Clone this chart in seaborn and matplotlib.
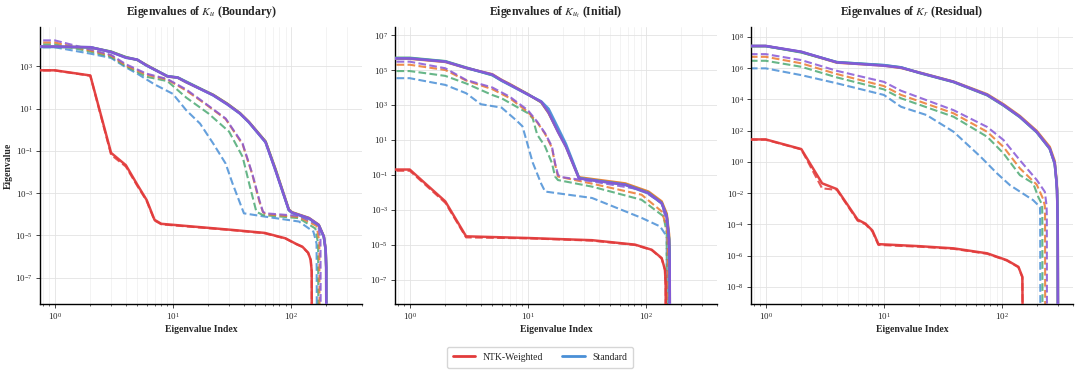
import numpy as np
import pandas as pd
import matplotlib
matplotlib.use("Agg")
import matplotlib.pyplot as plt
import seaborn as sns
from matplotlib.lines import Line2D
from matplotlib.ticker import NullLocator, FixedLocator

# ---------------- data (eigenvalue index -> eigenvalue) ----------------
# Panel 1: K_u (Boundary)
B_RED_X = [0, 1, 2, 3, 4, 5, 6, 7, 8, 32, 60, 90, 110, 125, 140, 147, 150, 151]
B_RED_SOLID = [700, 650, 370, 0.08, 0.021, 2.5e-3, 4.7e-4, 5.4e-5, 3.5e-5, 1.8e-5, 1.3e-5, 7.2e-6, 4e-6, 2.9e-6, 1.5e-6, 7e-7, 2e-7, 1e-14]
B_RED_DASH = [690, 640, 360, 0.065, 0.018, 2.2e-3, 4.3e-4, 5.0e-5, 3.3e-5, 1.75e-5, 1.25e-5, 7.0e-6, 3.9e-6, 2.8e-6, 1.45e-6, 6.8e-7, 1.9e-7, 1e-14]

B_SOLID_X = [0, 1, 2, 3, 4, 5, 6, 9, 11, 13, 22, 29, 37, 44, 61, 74, 96, 102, 142, 172, 190, 197, 199, 200]
B_PURPLE_SOLID = [9000, 8700, 8100, 4800, 2600, 2100, 1100, 340, 295, 180, 43, 16, 5.9, 2.3, 0.26, 0.012, 1.6e-4, 1.2e-4, 6.5e-5, 3.1e-5, 8.7e-6, 2e-6, 3e-7, 1e-14]
B_ORANGE_SOLID = [8800, 8500, 7900, 4900, 2700, 2000, 1150, 330, 290, 175, 45, 17, 6.2, 2.4, 0.28, 0.014, 1.7e-4, 1.25e-4, 6.7e-5, 3.2e-5, 9e-6, 2.1e-6, 3e-7, 1e-14]
B_GREEN_SOLID = [8600, 8400, 8000, 5000, 2750, 2050, 1120, 345, 300, 190, 44, 16.5, 6.0, 2.3, 0.27, 0.013, 1.6e-4, 1.2e-4, 6.4e-5, 3.0e-5, 8.5e-6, 2e-6, 3e-7, 1e-14]
B_BLUE_SOLID = [8500, 8300, 8050, 4700, 2550, 2050, 1080, 335, 290, 178, 42, 15.5, 5.8, 2.25, 0.25, 0.012, 1.55e-4, 1.15e-4, 6.3e-5, 3.0e-5, 8.4e-6, 1.9e-6, 3e-7, 1e-14]

B_PURPLE_DASH_X = [0, 1, 2, 3, 4, 6, 9, 13, 19, 28, 39, 47, 54, 58, 61, 117, 170, 178, 180]
B_PURPLE_DASH = [1.8e4, 1.7e4, 6300, 3500, 1260, 450, 250, 80, 17, 3.4, 0.22, 8.5e-3, 4.7e-4, 1.3e-4, 1.1e-4, 8.3e-5, 3.2e-5, 6.3e-6, 1e-14]
B_ORANGE_DASH_X = [0, 1, 2, 3, 4, 6, 9, 13, 19, 28, 39, 47, 54, 58, 61, 117, 165, 174, 176]
B_ORANGE_DASH = [1.4e4, 1.35e4, 5600, 3200, 1100, 400, 235, 71, 16, 3.2, 0.2, 7.9e-3, 4e-4, 1.26e-4, 1e-4, 7.4e-5, 2.8e-5, 5e-6, 1e-14]
B_GREEN_DASH_X = [0, 1, 2, 3, 4, 6, 9, 13, 20, 30, 39, 45, 51, 58, 117, 161, 170, 172]
B_GREEN_DASH = [1.15e4, 1.1e4, 5000, 2800, 1000, 320, 200, 33, 5.9, 0.8, 0.052, 2e-3, 1.3e-4, 9.1e-5, 6.5e-5, 2.1e-5, 4e-6, 1e-14]
B_BLUE_DASH_X = [0, 1, 2, 3, 4, 5, 7, 10, 13, 17, 22, 28, 32, 40, 61, 117, 155, 165, 167]
B_BLUE_DASH = [8300, 8000, 4000, 2500, 900, 450, 140, 50, 8.3, 1.95, 0.22, 0.025, 2.9e-3, 1.1e-4, 7.6e-5, 4.5e-5, 1.5e-5, 4e-6, 1e-14]

# Panel 2: K_{u_t} (Initial)
I_RED_X = [0, 1, 2, 3, 10, 35, 81, 112, 136, 145, 147, 148]
I_RED_SOLID = [0.22, 0.2, 3e-3, 3e-5, 2.4e-5, 1.8e-5, 1e-5, 5.1e-6, 1.7e-6, 3.7e-7, 5e-8, 1e-14]
I_RED_DASH = [0.2, 0.17, 2.5e-3, 2.6e-5, 2.3e-5, 1.7e-5, 9.6e-6, 4.9e-6, 1.6e-6, 3.5e-7, 5e-8, 1e-14]

I_SOLID_X = [0, 1, 2, 3, 5, 6, 7, 10, 13, 15, 18, 21, 24, 27, 28, 67, 105, 136, 150, 157, 159, 160]
I_PURPLE_SOLID = [4.8e5, 4.6e5, 3e5, 1.35e5, 5.5e4, 2.6e4, 1.5e4, 4e3, 1.5e3, 360, 28, 4, 0.45, 0.065, 0.06, 0.027, 9e-3, 2.4e-3, 4.2e-4, 2e-5, 1e-6, 1e-14]
I_ORANGE_SOLID = [4.6e5, 4.4e5, 2.9e5, 1.3e5, 5.7e4, 2.7e4, 1.6e4, 4.2e3, 1.4e3, 340, 30, 4.3, 0.5, 0.075, 0.07, 0.032, 0.011, 3e-3, 6e-4, 4e-5, 5e-6, 1e-14]
I_GREEN_SOLID = [5.2e5, 5e5, 3.2e5, 1.4e5, 5e4, 2.5e4, 1.45e4, 4.1e3, 1.45e3, 380, 32, 4.5, 0.48, 0.07, 0.063, 0.028, 9.5e-3, 2.5e-3, 4.5e-4, 2.5e-5, 1.5e-6, 1e-14]
I_BLUE_SOLID = [4.9e5, 4.7e5, 3.1e5, 1.3e5, 5.2e4, 2.4e4, 1.4e4, 3.9e3, 1.6e3, 600, 50, 6, 0.6, 0.07, 0.062, 0.026, 8.5e-3, 2.3e-3, 4e-4, 2e-5, 1e-6, 1e-14]

I_PURPLE_DASH_X = [0, 1, 2, 3, 5, 7, 10, 12, 14, 16, 17, 18, 19, 35, 92, 136, 153, 156, 157]
I_PURPLE_DASH = [3.3e5, 3e5, 1.26e5, 2.7e4, 1e4, 3e3, 500, 110, 24, 4.2, 0.47, 0.1, 0.075, 0.042, 0.014, 2.4e-3, 1.1e-4, 1e-5, 1e-14]
I_ORANGE_DASH_X = [0, 1, 2, 3, 5, 7, 10, 12, 14, 16, 17, 18, 35, 92, 136, 150, 153, 154]
I_ORANGE_DASH = [2.2e5, 2e5, 1e5, 2.5e4, 8e3, 2.5e3, 400, 100, 22, 3.5, 0.4, 0.08, 0.031, 7.2e-3, 8e-4, 1e-4, 1e-5, 1e-14]
I_GREEN_DASH_X = [0, 1, 2, 3, 5, 6, 10, 11, 12, 14, 16, 17, 18, 35, 92, 141, 150, 151]
I_GREEN_DASH = [9e4, 8.7e4, 4.6e4, 1.7e4, 3.7e3, 2.4e3, 340, 170, 20, 4.2, 0.47, 0.08, 0.05, 0.021, 3.7e-3, 4.2e-4, 4.7e-5, 1e-14]
I_BLUE_DASH_X = [0, 1, 2, 3, 4, 6, 8, 9, 11, 13, 14, 35, 92, 132, 150, 151]
I_BLUE_DASH = [3.5e4, 3.4e4, 1.4e4, 4.7e3, 1.1e3, 700, 130, 60, 0.5, 0.03, 0.011, 4.7e-3, 3.4e-4, 1.1e-4, 3e-5, 1e-14]

# Panel 3: K_r (Residual)
R_RED_X = [0, 1, 2, 3, 4, 6, 7, 8, 9, 20, 39, 75, 110, 138, 149, 151]
R_RED_SOLID = [28, 27, 6.5, 0.042, 0.018, 2e-4, 1.1e-4, 4e-5, 5.4e-6, 4e-6, 2.9e-6, 1.4e-6, 5.1e-7, 1.9e-7, 4.4e-8, 1e-14]
R_RED_DASH = [27, 26, 6.2, 0.02, 0.016, 1.7e-4, 1e-4, 3.5e-5, 4.8e-6, 3.7e-6, 2.7e-6, 1.3e-6, 4.8e-7, 1.8e-7, 4e-8, 1e-14]

R_SOLID_X = [0, 1, 2, 4, 10, 14, 20, 39, 75, 103, 142, 197, 254, 280, 289, 293, 297, 299]
R_PURPLE_SOLID = [2.7e7, 2.6e7, 1.1e7, 2.3e6, 1.4e6, 1.05e6, 5e5, 1.3e5, 1.9e4, 4.3e3, 760, 83, 7.2, 0.8, 0.068, 0.015, 1e-4, 1e-14]
R_ORANGE_SOLID = [2.6e7, 2.5e7, 1.05e7, 2.2e6, 1.45e6, 1.0e6, 5.2e5, 1.35e5, 2.1e4, 4.8e3, 850, 95, 9, 1.1, 0.09, 0.02, 1.5e-4, 1e-14]
R_GREEN_SOLID = [2.65e7, 2.55e7, 1.0e7, 2.4e6, 1.5e6, 1.1e6, 4.8e5, 1.25e5, 1.8e4, 4.0e3, 720, 78, 6.8, 0.75, 0.065, 0.014, 1e-4, 1e-14]
R_BLUE_SOLID = [2.6e7, 2.5e7, 1.08e7, 2.35e6, 1.55e6, 1.1e6, 5e5, 1.3e5, 1.9e4, 4.2e3, 740, 80, 7, 0.78, 0.066, 0.015, 1e-4, 1e-14]

R_PURPLE_DASH_X = [0, 1, 2, 4, 10, 14, 39, 75, 103, 142, 197, 231, 239, 240, 241]
R_PURPLE_DASH = [8e6, 7.7e6, 3.2e6, 6.6e5, 1.3e5, 3.5e4, 2e3, 170, 25, 1.26, 0.07, 0.012, 1.5e-3, 3e-4, 1e-14]
R_ORANGE_DASH_X = [0, 1, 2, 4, 10, 14, 39, 75, 103, 142, 197, 224, 231, 232, 233]
R_ORANGE_DASH = [5.5e6, 5.2e6, 2e6, 4.1e5, 7e4, 1.9e4, 1.26e3, 83, 9, 0.38, 0.035, 4e-3, 1.5e-3, 3e-4, 1e-14]
R_GREEN_DASH_X = [0, 1, 2, 4, 10, 14, 39, 75, 103, 142, 184, 203, 219, 220, 221]
R_GREEN_DASH = [3e6, 2.9e6, 1.2e6, 2.5e5, 4.3e4, 1.15e4, 760, 40, 3.5, 0.14, 0.042, 5.7e-3, 1.8e-3, 3e-4, 1e-14]
R_BLUE_DASH_X = [0, 1, 2, 4, 10, 14, 23, 39, 66, 91, 117, 184, 210, 211, 212]
R_BLUE_DASH = [1.07e6, 9.5e5, 3.5e5, 1.05e5, 1.9e4, 3.3e3, 980, 83, 2.1, 0.18, 0.032, 3.5e-3, 1.3e-3, 3e-4, 1e-14]

TITLES = ["Eigenvalues of $K_u$ (Boundary)",
          "Eigenvalues of $K_{u_t}$ (Initial)",
          "Eigenvalues of $K_r$ (Residual)"]
LEGEND_LABELS = ["NTK-Weighted", "Standard"]

# ---------------- style ----------------
sns.set_style("ticks")
plt.rcParams["font.family"] = ["Liberation Serif", "DejaVu Serif"]
plt.rcParams["mathtext.fontset"] = "stix"

RED = "#E23B3B"
ORANGE = "#EB7A30"
GREEN = "#4DAA74"
BLUE = "#4A8FD6"
PURPLE = "#8757D6"

panels = [
    dict(
        dashed=[(B_BLUE_DASH_X, B_BLUE_DASH, BLUE), (B_GREEN_DASH_X, B_GREEN_DASH, GREEN),
                (B_ORANGE_DASH_X, B_ORANGE_DASH, ORANGE), (B_PURPLE_DASH_X, B_PURPLE_DASH, PURPLE)],
        red=(B_RED_X, B_RED_SOLID, B_RED_DASH),
        solid=(B_SOLID_X, [(B_ORANGE_SOLID, ORANGE), (B_GREEN_SOLID, GREEN), (B_BLUE_SOLID, BLUE), (B_PURPLE_SOLID, PURPLE)]),
        ylim=(5.6e-9, 7.3e4), yticks=[10.0 ** k for k in range(-7, 4, 2)],
    ),
    dict(
        dashed=[(I_BLUE_DASH_X, I_BLUE_DASH, BLUE), (I_GREEN_DASH_X, I_GREEN_DASH, GREEN),
                (I_ORANGE_DASH_X, I_ORANGE_DASH, ORANGE), (I_PURPLE_DASH_X, I_PURPLE_DASH, PURPLE)],
        red=(I_RED_X, I_RED_SOLID, I_RED_DASH),
        solid=(I_SOLID_X, [(I_ORANGE_SOLID, ORANGE), (I_GREEN_SOLID, GREEN), (I_BLUE_SOLID, BLUE), (I_PURPLE_SOLID, PURPLE)]),
        ylim=(4e-9, 2.9e7), yticks=[10.0 ** k for k in range(-7, 8, 2)],
    ),
    dict(
        dashed=[(R_BLUE_DASH_X, R_BLUE_DASH, BLUE), (R_GREEN_DASH_X, R_GREEN_DASH, GREEN),
                (R_ORANGE_DASH_X, R_ORANGE_DASH, ORANGE), (R_PURPLE_DASH_X, R_PURPLE_DASH, PURPLE)],
        red=(R_RED_X, R_RED_SOLID, R_RED_DASH),
        solid=(R_SOLID_X, [(R_ORANGE_SOLID, ORANGE), (R_GREEN_SOLID, GREEN), (R_BLUE_SOLID, BLUE), (R_PURPLE_SOLID, PURPLE)]),
        ylim=(8e-10, 4.2e8), yticks=[10.0 ** k for k in range(-8, 9, 2)],
    ),
]

fig = plt.figure(figsize=(10.8, 3.75), dpi=100)
lefts = [40, 395, 751]
axes = [fig.add_axes([l / 1080, 1 - 304 / 375, 322 / 1080, (304 - 27) / 375]) for l in lefts]


def draw(ax, x, y, color, ls, lw, alpha, z):
    df = pd.DataFrame({"index": x, "eigenvalue": y})
    sns.lineplot(data=df, x="index", y="eigenvalue", ax=ax, color=color,
                 linestyle=ls, linewidth=lw, alpha=alpha, estimator=None,
                 sort=False, zorder=z)


for i, (ax, p) in enumerate(zip(axes, panels)):
    for x, y, c in p["dashed"]:
        draw(ax, x, y, c, "--", 1.5, 0.85, 2)
    rx, rs, rd = p["red"]
    draw(ax, rx, rd, RED, "--", 1.5, 0.85, 3)
    draw(ax, rx, rs, RED, "-", 1.8, 0.95, 4)
    sx, sl = p["solid"]
    for y, c in sl:
        draw(ax, sx, y, c, "-", 1.8, 0.95, 5)

    ax.set_xscale("log")
    ax.set_yscale("log")
    ax.set_xlim(0.75, 400)
    ax.set_ylim(*p["ylim"])
    ax.yaxis.set_major_locator(FixedLocator(p["yticks"]))
    ax.yaxis.set_minor_locator(NullLocator())
    ax.grid(True, which="major", color="#e3e3e3", linewidth=0.6, zorder=0)
    ax.grid(True, which="minor", axis="x", color="#eeeeee", linewidth=0.5, zorder=0)
    ax.set_axisbelow(True)
    ax.tick_params(axis="both", which="major", labelsize=6.5, length=3, width=0.6, pad=2)
    ax.tick_params(axis="both", which="minor", length=1.6, width=0.5)
    for s in ["left", "bottom"]:
        ax.spines[s].set_linewidth(1.0)
        ax.spines[s].set_color("black")
    sns.despine(ax=ax)
    ax.set_title(TITLES[i], fontsize=8.5, fontweight="bold", pad=9)
    ax.set_xlabel("Eigenvalue Index", fontsize=7, fontweight="bold", labelpad=2)
    if i == 0:
        ax.set_ylabel("Eigenvalue", fontsize=7, fontweight="bold", labelpad=2)
    else:
        ax.set_ylabel("")
    if ax.get_legend() is not None:
        ax.get_legend().remove()

handles = [Line2D([], [], color=RED, lw=2), Line2D([], [], color=BLUE, lw=2)]
fig.legend(handles, LEGEND_LABELS, loc="center", bbox_to_anchor=(0.5, 0.047), ncol=2,
           fontsize=7, frameon=True, edgecolor="#cccccc", fancybox=True,
           handlelength=2.3, columnspacing=2.0, borderpad=0.6)

fig.savefig("out.png", dpi=100)
